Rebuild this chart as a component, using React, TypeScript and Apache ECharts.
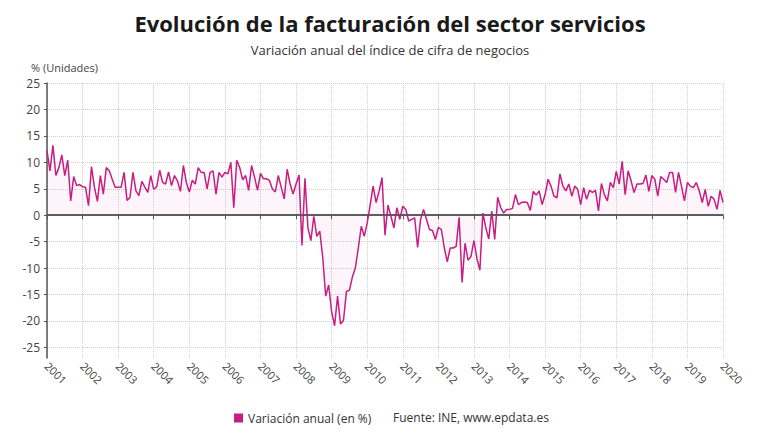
import React, { useEffect, useRef } from "react";
import * as echarts from "echarts";

const START_YEAR = 2001;
const END_YEAR = 2020;

// Variación anual del índice de cifra de negocios (monthly, %)
const v2001 = [12.2, 8.4, 13.2, 7.5, 9, 11.4, 7.5, 10.4, 2.7, 7.3, 5.6, 5.8];
const v2002 = [5.4, 5.3, 1.8, 9.2, 5.3, 2.6, 7.5, 4, 9, 8.4, 6.8, 5.3];
const v2003 = [5.3, 5.3, 8.1, 2.8, 3.4, 8.1, 4.6, 3.7, 6.4, 5.3, 4.3, 7.5];
const v2004 = [4.9, 5.4, 8.5, 6.2, 5.9, 8.2, 5.6, 7.5, 6.5, 4.5, 9.4, 6.2];
const v2005 = [4.4, 6.6, 5.9, 9, 8.1, 8.1, 5, 8.1, 8.4, 4, 8.1, 7.2];
const v2006 = [8.1, 7.8, 10, 1.4, 10.4, 9, 6.7, 7.5, 4.7, 9.4, 7.2, 4.7];
const v2007 = [7.9, 6.9, 6.9, 6.6, 5, 4.4, 7.5, 5.3, 3.1, 8.7, 5.9, 4];
const v2008 = [5.9, 7.6, -5.7, 7, -2.4, -4.8, -0.2, -4, -3, -8, -15.3, -13.2];
const v2009 = [-18.3, -20.9, -15.3, -20.6, -19.9, -14.4, -14.2, -11.7, -10, -6.2, -2.1, -4];
const v2010 = [-1.5, 2, 5.5, 2.4, 4.5, 7.1, -3.8, 1.9, -0.2, -2.4, 1.4, -0.8];
const v2011 = [1.7, 1.1, -1.1, -0.8, -0.5, -6.1, -0.8, 1.1, -0.8, -2.7, -2.9, -4.6];
const v2012 = [-2.3, -2.7, -6.2, -8.8, -6.2, -6.2, -5.9, -0.4, -12.7, -5.3, -8.5, -7.8];
const v2013 = [-4.8, -8.2, -10.4, 0.4, -2.4, -4.5, 0.8, -4.6, 3.4, 1.5, 0.4, 1.1];
const v2014 = [1.1, 1.3, 3.9, 2, 2.4, 2.5, 2.4, 0.9, 4.5, 3.8, 4.6, 2];
const v2015 = [3.9, 6.8, 5.5, 3.6, 3.3, 7.8, 5.5, 4.6, 5.9, 3.6, 5.5, 4.9];
const v2016 = [2, 5.2, 3, 4.7, 4.3, 4.7, 0.8, 6, 3.9, 2.7, 6.2, 5.2];
const v2017 = [8.3, 5.9, 10.2, 3.9, 8.4, 6.5, 4.3, 5.9, 5.9, 6, 7.6, 4.5];
const v2018 = [7.5, 6.8, 3.6, 7.3, 6.8, 6.2, 8.1, 8.1, 4.3, 8.1, 5.5, 2.7];
const v2019 = [6.2, 5.5, 5.2, 6.2, 4.6, 2.4, 4.9, 1.7, 3.6, 3, 1.1, 4.7];
const v2020 = [2.4];

const monthlyValues = [
  ...v2001, ...v2002, ...v2003, ...v2004, ...v2005, ...v2006, ...v2007,
  ...v2008, ...v2009, ...v2010, ...v2011, ...v2012, ...v2013, ...v2014,
  ...v2015, ...v2016, ...v2017, ...v2018, ...v2019, ...v2020,
];

const yTicks = [-25, -20, -15, -10, -5, 0, 5, 10, 15, 20, 25];

const TITLE = "Evolución de la facturación del sector servicios";
const SUBTITLE = "Variación anual del índice de cifra de negocios";
const UNIT = "% (Unidades)";
const SERIES_NAME = "Variación anual (en %)";
const SOURCE = "Fuente: INE, www.epdata.es";

const FONT = "'Open Sans', 'Noto Sans', sans-serif";
const LINE_COLOR = "#c81e82";

export default function App() {
  const ref = useRef<HTMLDivElement>(null);

  useEffect(() => {
    const chart = echarts.init(ref.current!, null, { renderer: "svg" });
    const data = monthlyValues.map((v, i) => [START_YEAR + i / 12, v]);

    chart.setOption({
      animation: false,
      backgroundColor: "#ffffff",
      textStyle: { fontFamily: FONT },
      title: [
        {
          text: TITLE,
          left: "center",
          top: 7,
          textStyle: { fontFamily: FONT, fontSize: 22, fontWeight: "bold", color: "#1a1a1a" },
        },
        {
          text: SUBTITLE,
          left: "center",
          top: 38,
          textStyle: { fontFamily: FONT, fontSize: 13, fontWeight: "normal", color: "#333" },
        },
        {
          text: UNIT,
          left: 26,
          top: 57,
          textStyle: { fontFamily: FONT, fontSize: 11, fontWeight: "normal", color: "#444" },
        },
        {
          text: SOURCE,
          left: 388,
          top: 406,
          textStyle: { fontFamily: FONT, fontSize: 12, fontWeight: "normal", color: "#333" },
        },
      ],
      legend: {
        left: 229,
        top: 407,
        icon: "rect",
        itemWidth: 9,
        itemHeight: 9,
        itemGap: 4,
        textStyle: { fontFamily: FONT, fontSize: 12, color: "#333" },
        data: [SERIES_NAME],
      },
      grid: { left: 47, right: 57, top: 83, bottom: 82, containLabel: false },
      xAxis: {
        type: "value",
        min: START_YEAR,
        max: END_YEAR,
        interval: 1,
        axisLine: { show: true, lineStyle: { color: "#555", width: 1.5 } },
        axisTick: { show: true, length: 4, lineStyle: { color: "#555" } },
        axisLabel: {
          rotate: -45,
          fontFamily: FONT,
          fontSize: 11,
          color: "#444",
          margin: 6,
          formatter: (v: number) => String(Math.round(v)),
        },
        splitLine: { show: true, lineStyle: { color: "#d0d0d0", type: "dotted", width: 1 } },
      },
      yAxis: {
        type: "value",
        min: -27,
        max: 25,
        axisLine: { show: true, lineStyle: { color: "#555", width: 1.5 } },
        axisTick: { show: true, length: 3, customValues: yTicks, lineStyle: { color: "#555" } },
        axisLabel: {
          customValues: yTicks,
          fontFamily: FONT,
          fontSize: 12,
          color: "#444",
          margin: 7,
        },
        splitLine: { show: true, lineStyle: { color: "#d0d0d0", type: "dotted", width: 1 } },
      },
      series: [
        {
          name: SERIES_NAME,
          type: "line",
          data,
          symbol: "none",
          showSymbol: false,
          color: LINE_COLOR,
          lineStyle: { color: LINE_COLOR, width: 1.5 },
          itemStyle: { color: LINE_COLOR },
          areaStyle: { color: "rgba(200,30,130,0.06)", origin: 0 },
          markLine: {
            silent: true,
            symbol: ["none", "none"],
            label: { show: false },
            lineStyle: { color: "#555", type: "solid", width: 1.5 },
            data: [{ yAxis: 0 }],
          },
        },
      ],
    });

    return () => chart.dispose();
  }, []);

  return (
    <div
      ref={ref}
      style={{ position: "fixed", left: 0, top: 0, width: 780, height: 440 }}
    />
  );
}
